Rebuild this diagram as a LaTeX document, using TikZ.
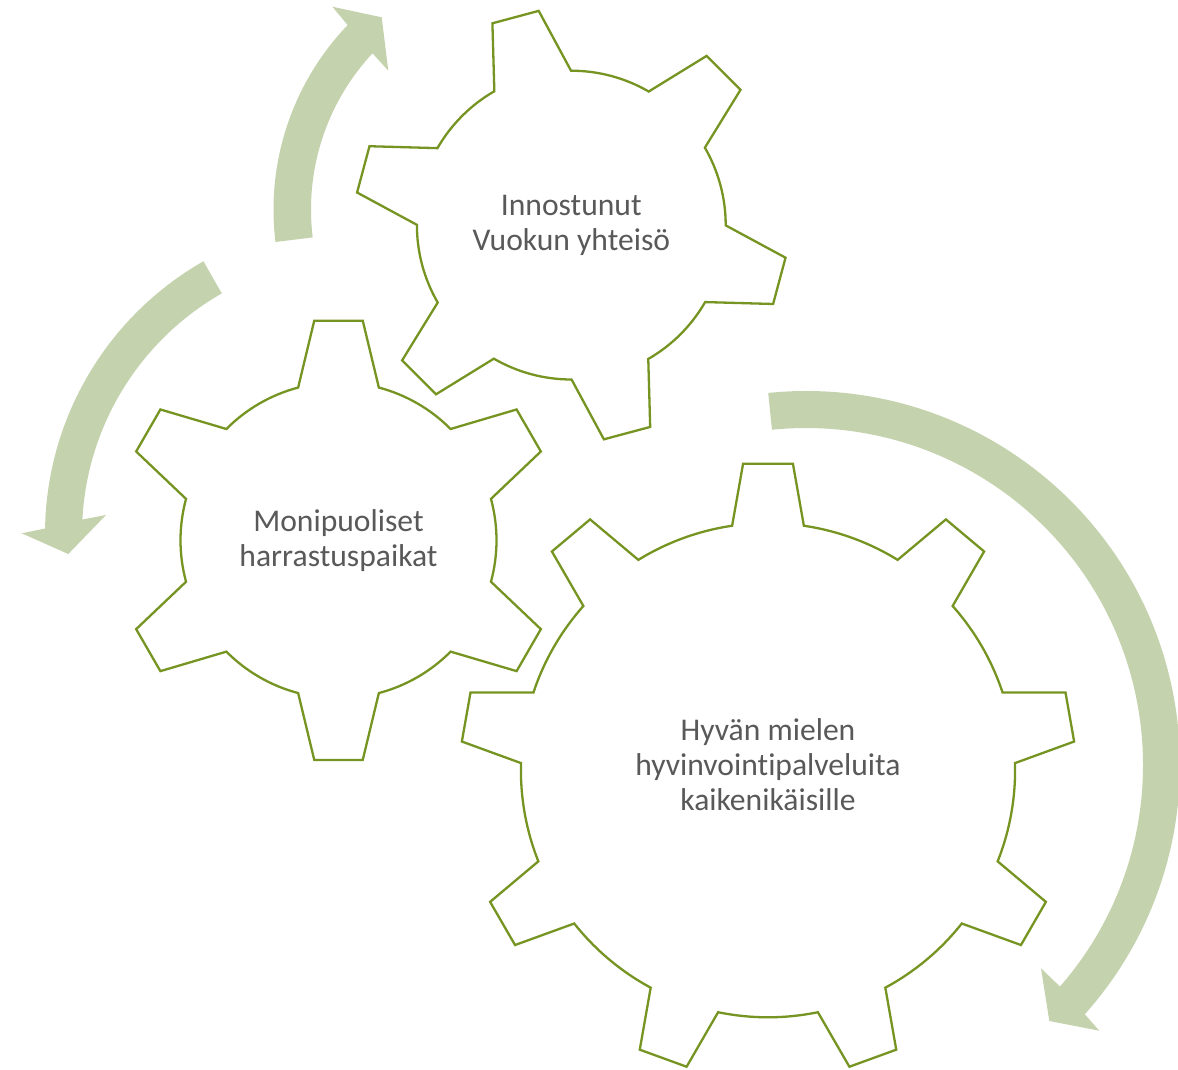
\documentclass[tikz,border=0pt]{standalone}
\usepackage{fontspec}
\setmainfont[Ligatures=NoCommon]{Carlito}
\usepackage{xcolor}
\usepackage{tikz}

\definecolor{gearline}{RGB}{118,148,34}
\definecolor{arrowfill}{RGB}{196,211,173}
\definecolor{labeltext}{RGB}{89,89,89}

% gear outline: centre, teeth, first tooth angle, tip radius, root radius,
% half angle of the tip, half angle of the tooth root
\newcommand{\gearoutline}[7]{%
  \draw[gearedge] ([shift={(#1)}]{#3-#7}:#5)
    \foreach \k [evaluate=\k as \ga using #3+(\k-1)*360/#2] in {1,...,#2}{
      -- ([shift={(#1)}]{\ga-#6}:#4) -- ([shift={(#1)}]{\ga+#6}:#4)
      -- ([shift={(#1)}]{\ga+#7}:#5)
      arc[start angle={\ga+#7}, end angle={\ga+360/#2-#7}, radius=#5]
    } -- cycle;
}

\begin{document}
\begin{tikzpicture}[x=1pt, y=1pt,
  gearedge/.style={draw=gearline, line width=2.3pt, line join=miter, fill=white},
  cyclearrow/.style={fill=arrowfill, draw=none},
  gearlabel/.style={align=center, text=labeltext, inner sep=0pt,
    font=\fontsize{31.6}{35}\selectfont}]
  \useasboundingbox (0,0) rectangle (1178,-1069);
  % gear centres and arrow centres
  \coordinate (g1) at (571.3,-225.1);
  \coordinate (g2) at (338.5,-540.3);
  \coordinate (g3) at (768,-770.2);
  \coordinate (ca) at (540,-209.5);
  \coordinate (cb) at (359,-534);
  \coordinate (cc) at (806,-765);
  % upper arrow, turning clockwise
  \fill[cyclearrow] ([shift={(ca)}]187:266.5)
    arc[start angle=187, end angle=136.2, radius=266.5]
    -- (332.3,-6.7) -- (381.7,-17.3) -- (388.3,-70.7)
    -- ([shift={(ca)}]137:229)
    arc[start angle=137, end angle=187, radius=229] -- cycle;
  % left arrow, turning anticlockwise
  \fill[cyclearrow] ([shift={(cb)}]119.7:314)
    arc[start angle=119.7, end angle=179, radius=314]
    -- (21.7,-533.3) -- (68.3,-554) -- (106,-515)
    -- ([shift={(cb)}]177:277)
    arc[start angle=177, end angle=119.7, radius=277] -- cycle;
  % big arrow round the right gear
  \fill[cyclearrow] ([shift={(cc)}]95.8:374)
    arc[start angle=95.8, end angle=-41.8, radius=374]
    -- (1099.3,-1030.7) -- (1049.3,-1021) -- (1041,-968.3)
    -- ([shift={(cc)}]-41.1:337)
    arc[start angle=-41.1, end angle=95.8, radius=337] -- cycle;
  % gears
  \gearoutline{g1}{6}{105}{216.7}{154.4}{6.35}{14.9}
  \gearoutline{g2}{6}{90}{221}{158}{6.3}{14.8}
  \gearoutline{g3}{9}{90}{307.5}{247.1}{4.65}{8.35}
  % labels
  \node[gearlabel] (yhteiso) at (g1) {Innostunut\\Vuokun yhteisö};
  \node[gearlabel] (paikat) at (g2) {Monipuoliset\\harrastuspaikat};
  \node[gearlabel] (palvelut) at ([yshift=6pt]g3) {Hyvän mielen\\hyvinvointipalveluita\\kaikenikäisille};
\end{tikzpicture}
\end{document}
